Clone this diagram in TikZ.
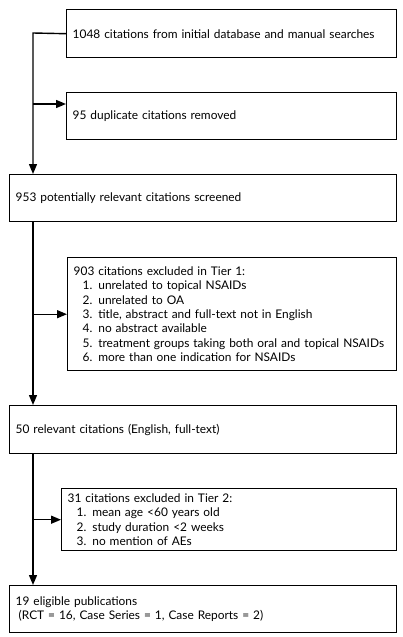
\documentclass[tikz,border=0pt]{standalone}
\usepackage{fontspec}
\setmainfont{Lato}
\usetikzlibrary{arrows.meta,calc}
\begin{document}
\begin{tikzpicture}[x=1pt,y=-1pt,
  box/.style={draw,line width=1.4pt,anchor=north west,inner xsep=6pt,inner ysep=2pt,align=left,
    font=\fontsize{11.9pt}{14.4pt}\selectfont},
  arr/.style={line width=1.4pt,-{Triangle[length=10pt,width=8pt]}}]
\useasboundingbox (0,0) rectangle (402,637);
\node[box,minimum width=330pt,minimum height=48pt,text width=318pt] (b1) at (66,9)
  {1048 citations from initial database and manual searches};
\node[box,minimum width=330pt,minimum height=47pt,text width=318pt] (b2) at (66,92)
  {95 duplicate citations removed};
\node[box,minimum width=387pt,minimum height=47pt,text width=375pt] (b3) at (9,174)
  {953 potentially relevant citations screened};
\node[box,minimum width=329pt,minimum height=113pt,text width=317pt] (b4) at (67,257)
  {903 citations excluded in Tier 1:\\
  \hspace*{9pt}1. unrelated to topical NSAIDs\\
  \hspace*{9pt}2. unrelated to OA\\
  \hspace*{9pt}3. title, abstract and full-text not in English\\
  \hspace*{9pt}4. no abstract available\\
  \hspace*{9pt}5. treatment groups taking both oral and topical NSAIDs\\
  \hspace*{9pt}6. more than one indication for NSAIDs};
\node[box,minimum width=387pt,minimum height=48pt,text width=375pt] (b5) at (9,405)
  {50 relevant citations (English, full-text)};
\node[box,minimum width=335pt,minimum height=62pt,text width=323pt] (b6) at (61,488)
  {31 citations excluded in Tier 2:\\
  \hspace*{9pt}1. mean age <60 years old\\
  \hspace*{9pt}2. study duration <2 weeks\\
  \hspace*{9pt}3. no mention of AEs};
\node[box,minimum width=387pt,minimum height=47pt,text width=375pt] (b7) at (9,585)
  {19 eligible publications\\
  \hspace*{3pt}(RCT = 16, Case Series = 1, Case Reports = 2)};
\coordinate (c1) at (33,33);
\coordinate (j1) at (33,104);
\draw[arr] (b1.west) -- (c1) -- (b3.north -| c1);
\draw[arr] (j1) -- (j1 -| b2.west);
\draw[arr] (b3.south -| c1) -- (b5.north -| c1);
\draw[arr] (b4.west -| c1) -- (b4.west);
\draw[arr] (b5.south -| c1) -- (b7.north -| c1);
\draw[arr] (b6.west -| c1) -- (b6.west);
\end{tikzpicture}
\end{document}
